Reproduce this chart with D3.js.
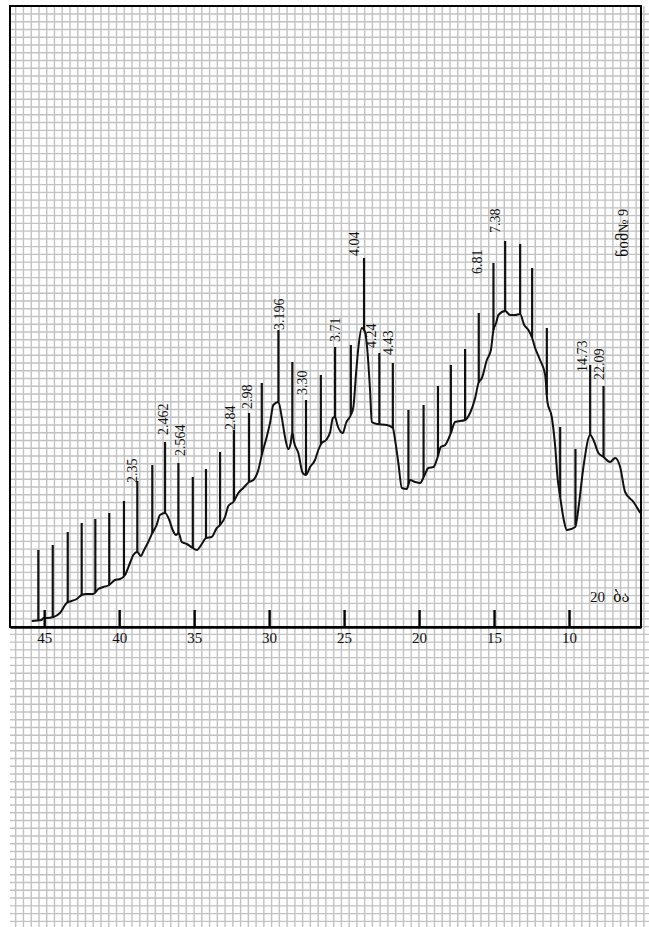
<!DOCTYPE html>
<html>
<head>
<meta charset="utf-8">
<script src="https://cdn.jsdelivr.net/npm/d3@7/dist/d3.min.js"></script>
<style>
body{margin:0;background:#fff;}
svg{display:block;}
</style>
</head>
<body>
<svg id="chart" width="649" height="927"></svg>
<script>
// 2theta ticks
let ticks = [45,40,35,30,25,20,15,10];

// recorded trace (2theta, intensity)
let curveTheta = [45.83,45.17,45.06,44.83,44.39,43.95,43.50,43.17,42.83,42.50,42.17,41.73,41.39,41.06,40.66,40.28,39.94,39.61,39.28,39.06,
    38.79,38.56,38.34,38.06,37.79,37.50,37.28,36.94,36.66,36.43,36.21,36.03,35.83,35.49,35.09,34.83,34.49,34.21,33.83,33.49,
    33.27,32.94,32.72,32.39,32.05,31.72,31.34,31.05,30.72,30.49,30.16,29.94,29.72,29.38,29.16,28.94,28.72,28.56,28.45,28.34,
    28.05,27.76,27.54,27.27,26.94,26.72,26.49,26.20,25.93,25.75,25.60,25.45,25.09,24.87,24.55,24.38,24.20,24.05,23.82,23.60,
    23.45,23.27,23.15,22.82,22.15,21.75,21.60,21.38,21.15,20.82,20.60,20.26,19.93,19.66,19.38,19.04,18.78,18.55,18.26,17.88,
    17.60,16.93,16.60,16.26,16.04,15.81,15.48,15.21,15.04,14.86,14.71,14.26,13.93,13.59,13.26,12.99,12.71,12.46,12.26,11.93,
    11.59,11.44,11.15,10.92,10.77,10.59,10.32,10.14,9.59,9.37,9.04,8.59,8.37,8.04,7.70,7.26,6.92,6.59,6.26,5.70,5.25];
let curveI = [6,7,9,9,10,14,24,26,28,32,33,33,38,40,42,47,48,52,64,72,
    75,71,77,85,94,102,112,114,107,97,92,94,85,83,79,77,83,89,90,99,
    102,110,121,125,134,139,145,147,157,172,190,204,222,225,210,190,178,184,195,185,
    174,154,152,160,167,177,184,187,195,209,210,202,194,204,212,220,254,279,299,295,
    277,237,205,203,202,199,187,164,139,138,147,145,144,151,159,160,169,180,182,194,
    205,207,214,229,244,249,267,277,297,304,312,316,312,312,313,302,297,289,279,267,
    252,225,210,180,150,130,105,97,100,119,160,192,187,174,170,165,169,160,135,125,114];

// reflection lines
let stickTheta = [45.39,44.43,43.43,42.50,41.59,40.66,39.68,38.79,37.79,36.94,36.05,35.09,34.21,33.27,32.34,31.34,30.49,29.38,28.45,27.54,
    26.55,25.60,24.55,23.67,22.65,21.75,20.71,19.70,18.74,17.88,16.93,16.02,15.04,14.26,13.26,12.46,11.48,10.59,9.57,8.59,7.70];
let stickI = [77,82,95,104,108,114,126,146,162,185,164,150,158,175,197,214,244,297,265,227,
    252,280,282,369,274,264,217,222,241,262,278,314,364,386,383,359,299,200,178,262,241];

// d-spacing labels
let peakText = ["2.35","2.462","2.564","2.84","2.98","3.196","3.30","3.71","4.04","4.24","4.43","6.81","7.38","14.73","22.09"];
let peakTheta = [39.16,37.10,35.94,32.61,31.49,29.34,27.82,25.60,24.33,23.20,22.07,16.13,14.93,9.12,8.02];
let peakI = [144,192,171,197,218,297,232,285,371,279,272,353,394,255,247];

let svg = d3.select("#chart");
let serif = "'Liberation Serif','DejaVu Serif','Times New Roman',serif";

let xScale = d3.scaleLinear().domain([47.28,5.2]).range([10,641]);
let yScale = d3.scaleLinear().domain([0,621]).range([627,6]);

// graph paper
let grid = svg.append("g").attr("stroke","#c2c2c2").attr("stroke-width",1.4);
grid.selectAll("line.v").data(d3.range(15.7,649,7.755)).enter().append("line").attr("class","v")
    .attr("x1",d=>d).attr("x2",d=>d).attr("y1",6).attr("y2",927);
grid.selectAll("line.h").data(d3.range(14,927,7.755)).enter().append("line").attr("class","h")
    .attr("x1",10).attr("x2",649).attr("y1",d=>d).attr("y2",d=>d);

svg.append("rect").attr("x",10).attr("y",6).attr("width",631).attr("height",621)
    .attr("fill","none").attr("stroke","#000").attr("stroke-width",2);

let trace = curveTheta.map((t,i)=>({t:t,v:curveI[i]}));

function curveAt(t) {
    for(let i=0;i<trace.length-1;i++){
        let a = trace[i], b = trace[i+1];
        if(t<=a.t && t>=b.t){
            let k = (a.t - t)/(a.t - b.t);
            return a.v + k*(b.v - a.v);
        }
    }
    return trace[0].v;
}

let sticks = stickTheta.map((t,i)=>({t:t,top:stickI[i],bottom:curveAt(t)}));
svg.append("g").selectAll("line").data(sticks).enter().append("line")
    .attr("x1",d=>xScale(d.t)).attr("x2",d=>xScale(d.t))
    .attr("y1",d=>yScale(d.top)).attr("y2",d=>yScale(d.bottom))
    .attr("stroke","#111").attr("stroke-width",2.2);

let line = d3.line().x(d=>xScale(d.t)).y(d=>yScale(d.v)).curve(d3.curveMonotoneX);
svg.append("path").datum(trace).attr("d",line)
    .attr("fill","none").attr("stroke","#111").attr("stroke-width",2).attr("stroke-linejoin","round");

// axis with ticks pointing up
let axis = svg.append("g").attr("transform","translate(0,627)")
    .call(d3.axisBottom(xScale).tickValues(ticks).tickSizeInner(-17).tickSizeOuter(0).tickPadding(5));
axis.select(".domain").attr("stroke","#000").attr("stroke-width",2.6);
axis.selectAll(".tick line").attr("stroke","#000").attr("stroke-width",2.4);
axis.selectAll(".tick text").attr("font-family",serif).attr("font-size",15).attr("fill","#111");

let peaks = peakText.map((s,i)=>({s:s,t:peakTheta[i],v:peakI[i]}));
svg.append("g").selectAll("text").data(peaks).enter().append("text")
    .attr("transform",d=>"translate("+xScale(d.t)+","+yScale(d.v)+") rotate(-90)")
    .attr("dy","0.35em").attr("font-family",serif).attr("font-size",14).attr("fill","#111")
    .text(d=>d.s);

svg.append("text").attr("transform","translate(623,233) rotate(-90)").attr("text-anchor","middle")
    .attr("dy","0.35em").attr("font-family",serif).attr("font-size",14).attr("fill","#111")
    .text("ნიმ№ 9");
let note = svg.append("text").attr("x",590).attr("y",602).attr("font-family",serif).attr("font-size",15).attr("fill","#111");
note.append("tspan").text("20");
note.append("tspan").attr("dx",8).text("ბა");
</script>
</body>
</html>
